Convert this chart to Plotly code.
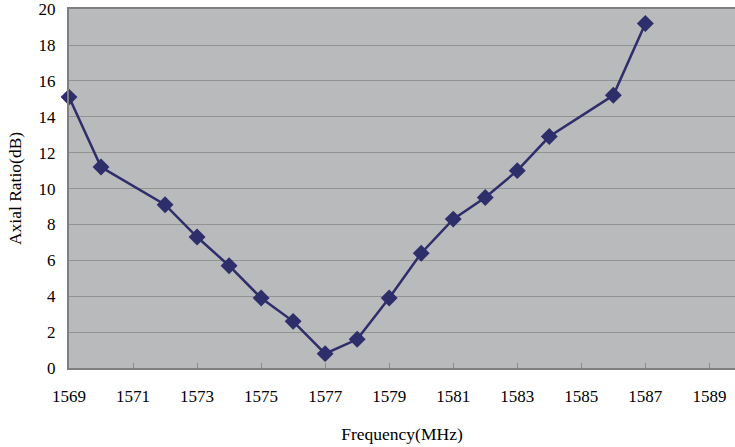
import plotly.graph_objects as go

freq = [1569, 1570, 1572, 1573, 1574, 1575, 1576, 1577, 1578, 1579, 1580, 1581, 1582, 1583, 1584, 1586, 1587]
axial_ratio = [15.1, 11.2, 9.1, 7.3, 5.7, 3.9, 2.6, 0.8, 1.6, 3.9, 6.4, 8.3, 9.5, 11.0, 12.9, 15.2, 19.2]
x_ticks = list(range(1569, 1590, 2))
y_ticks = list(range(0, 21, 2))

fig = go.Figure()
fig.add_trace(go.Scatter(
    x=freq, y=axial_ratio, mode="lines+markers",
    line=dict(color="#2e2e6b", width=2.5),
    marker=dict(symbol="diamond", size=13, color="#2e2e6b"),
    showlegend=False, cliponaxis=False,
))

font = "Liberation Serif"
fig.update_layout(
    width=735, height=447,
    margin=dict(l=69, r=0, t=9, b=79, autoexpand=False),
    paper_bgcolor="white",
    plot_bgcolor="#b9babc",
    font=dict(family=font, size=17, color="black"),
    xaxis=dict(
        range=[1569, 1589.8], tickvals=x_ticks, showgrid=False,
        ticks="inside", ticklen=5, tickcolor="#8a8a8a",
        showline=True, linecolor="#7f7f7f", linewidth=2, mirror=True,
        zeroline=False, automargin=False, ticklabelstandoff=12,
        ticklabeloverflow="allow",
        title=dict(text="Frequency(MHz)", font=dict(family=font, size=17.5), standoff=22),
        tickfont=dict(family=font, size=17),
    ),
    yaxis=dict(
        range=[0, 20.01], tickvals=y_ticks, showgrid=True,
        gridcolor="#939393", gridwidth=1.2,
        showline=True, linecolor="#7f7f7f", linewidth=2, mirror=True,
        zeroline=False, ticks="", automargin=False, ticklabelstandoff=8,
        ticklabeloverflow="allow",
        title=dict(text="Axial Ratio(dB)", font=dict(family=font, size=17.5), standoff=12),
        tickfont=dict(family=font, size=17),
    ),
)

fig.write_html("out.html", config={"displayModeBar": False},
               post_script="document.body.style.margin='0';")
